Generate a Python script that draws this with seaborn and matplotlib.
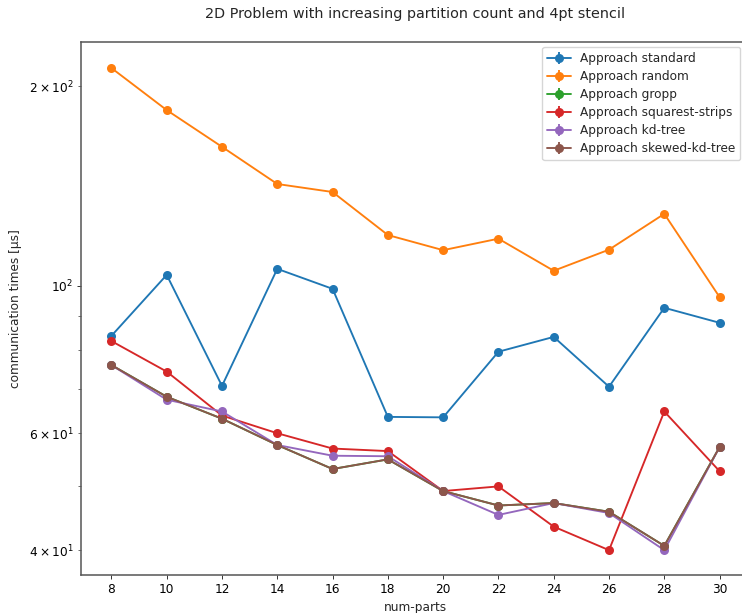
import numpy as np
import pandas as pd
import seaborn as sns
import matplotlib
matplotlib.use("Agg")
import matplotlib.pyplot as plt
from matplotlib.lines import Line2D
from matplotlib.collections import LineCollection
from matplotlib.container import ErrorbarContainer
from matplotlib.ticker import LogLocator, LogFormatterSciNotation

num_parts = [8, 10, 12, 14, 16, 18, 20, 22, 24, 26, 28, 30]

standard = [84.1, 103.9, 70.7, 106.1, 99.0, 63.5, 63.4, 79.6, 83.8, 70.5, 92.7, 88.0]
random_ = [212.9, 184.0, 162.0, 142.4, 138.5, 119.3, 113.2, 117.8, 105.4, 113.4, 128.4, 96.2]
gropp = [76.0, 68.1, 63.1, 57.6, 53.0, 54.8, 49.1, 46.7, 47.1, 45.7, 40.6, 57.2]
squarest_strips = [82.6, 74.3, 63.8, 60.0, 56.9, 56.4, 49.1, 49.9, 43.4, 40.0, 64.7, 52.6]
kd_tree = [76.0, 67.4, 64.7, 57.6, 55.5, 55.4, 49.1, 45.2, 47.1, 45.5, 40.0, 57.2]
skewed_kd_tree = [76.0, 68.1, 63.1, 57.6, 53.0, 54.8, 49.1, 46.7, 47.1, 45.7, 40.6, 57.2]

approaches = ["standard", "random", "gropp", "squarest-strips", "kd-tree", "skewed-kd-tree"]
series = [standard, random_, gropp, squarest_strips, kd_tree, skewed_kd_tree]
colors = ["#1f77b4", "#ff7f0e", "#2ca02c", "#d62728", "#9467bd", "#8c564b"]

df = pd.concat(
    [pd.DataFrame({"num-parts": num_parts, "time": vals, "approach": f"Approach {name}"})
     for name, vals in zip(approaches, series)],
    ignore_index=True,
)

sns.set_style("white")
plt.rcParams["font.family"] = ["DejaVu Sans"]

FS = 8.7

fig = plt.figure(figsize=(7.42, 6.13), dpi=100)
ax = fig.add_axes([81 / 742, 1 - 575 / 613, (750 - 81) / 742, (575 - 42) / 613])

for name, c in zip(approaches, colors):
    sub = df[df["approach"] == f"Approach {name}"]
    sns.lineplot(data=sub, x="num-parts", y="time", ax=ax, color=c, marker="o",
                 markersize=6.5, markeredgewidth=0, linewidth=1.35, legend=False)

ax.set_yscale("log")
ax.set_ylim(36.7, 233)
ax.set_xlim(6.9, 31.1)
ax.set_xticks(num_parts)
ax.set_xticklabels([str(v) for v in num_parts])
ax.yaxis.set_major_locator(LogLocator(base=10, subs=(1.0,)))
ax.yaxis.set_minor_locator(LogLocator(base=10, subs=np.arange(2, 10)))
ax.yaxis.set_minor_formatter(LogFormatterSciNotation(labelOnlyBase=False,
                                                      minor_thresholds=(2, 0.4)))

for sp in ax.spines.values():
    sp.set_color("#555555")
    sp.set_linewidth(1.1)
ax.tick_params(axis="both", which="both", bottom=True, left=True, colors="#333333",
               labelcolor="black", labelsize=FS, pad=3)
ax.tick_params(axis="both", which="major", length=3.0, width=0.7)
ax.tick_params(axis="y", which="minor", length=2.2, width=0.5)

ax.set_xlabel("num-parts", fontsize=FS, labelpad=3)
ax.set_ylabel("communication times [µs]", fontsize=FS, labelpad=5)
ax.set_title("2D Problem with increasing partition count and 4pt stencil",
             fontsize=10.4, pad=17)

handles = []
for name, c in zip(approaches, colors):
    line = Line2D([], [], color=c, marker="o", markersize=6.5, markeredgewidth=0, linewidth=1.35)
    bars = LineCollection([], colors=c, linewidths=1.35)
    handles.append(ErrorbarContainer((line, (), (bars,)), has_xerr=False, has_yerr=True,
                                     label=f"Approach {name}"))
ax.legend(handles=handles, labels=[f"Approach {n}" for n in approaches],
          loc="upper right", bbox_to_anchor=(740 / 742, 1 - 47 / 613),
          bbox_transform=fig.transFigure, borderaxespad=0, fontsize=FS, frameon=True,
          handlelength=2.0, handletextpad=0.7, borderpad=0.4, labelspacing=0.42)

fig.savefig("out.png", dpi=100)
